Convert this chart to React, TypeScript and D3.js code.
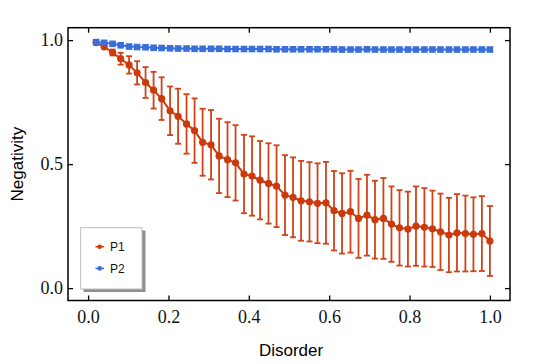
import React, { useEffect, useRef } from 'react';
import * as d3 from 'd3';

// disorder values (49 points, 0.02 .. 1.0)
const disorder = [
  0.020, 0.040, 0.061, 0.081, 0.102, 0.122, 0.143, 0.163, 0.183, 0.204,
  0.224, 0.245, 0.265, 0.285, 0.306, 0.326, 0.347, 0.367, 0.388, 0.408,
  0.428, 0.449, 0.469, 0.490, 0.510, 0.530, 0.551, 0.571, 0.592, 0.612,
  0.632, 0.653, 0.673, 0.694, 0.714, 0.735, 0.755, 0.775, 0.796, 0.816,
  0.837, 0.857, 0.877, 0.898, 0.918, 0.939, 0.959, 0.980, 1.000,
];

const p1 = [
  0.990, 0.973, 0.950, 0.925, 0.900, 0.868, 0.829, 0.798, 0.764, 0.715,
  0.693, 0.662, 0.635, 0.588, 0.578, 0.533, 0.518, 0.505, 0.460, 0.452,
  0.435, 0.422, 0.411, 0.375, 0.366, 0.352, 0.348, 0.342, 0.344, 0.312,
  0.301, 0.308, 0.281, 0.294, 0.276, 0.281, 0.258, 0.243, 0.238, 0.250,
  0.245, 0.239, 0.227, 0.214, 0.223, 0.220, 0.217, 0.220, 0.190,
];

const p1Err = [
  0.003, 0.006, 0.012, 0.024, 0.035, 0.047, 0.062, 0.074, 0.086, 0.098,
  0.111, 0.120, 0.130, 0.135, 0.140, 0.150, 0.151, 0.152, 0.158, 0.160,
  0.158, 0.162, 0.165, 0.161, 0.161, 0.161, 0.160, 0.161, 0.165, 0.160,
  0.162, 0.165, 0.159, 0.163, 0.157, 0.163, 0.152, 0.152, 0.151, 0.160,
  0.158, 0.154, 0.154, 0.150, 0.156, 0.153, 0.149, 0.151, 0.141,
];

const p2 = [
  0.992, 0.989, 0.985, 0.979, 0.974, 0.972, 0.971, 0.969, 0.968, 0.967,
  0.966, 0.966, 0.965, 0.965, 0.965, 0.965, 0.964, 0.964, 0.964, 0.964,
  0.964, 0.964, 0.963, 0.963, 0.963, 0.963, 0.963, 0.963, 0.963, 0.963,
  0.962, 0.962, 0.962, 0.963, 0.962, 0.962, 0.962, 0.962, 0.962, 0.962,
  0.962, 0.962, 0.962, 0.962, 0.962, 0.962, 0.962, 0.962, 0.962,
];

const xTicks = [0, 0.2, 0.4, 0.6, 0.8, 1.0];
const yTicks = [0, 0.5, 1.0];
const seriesNames = ['P1', 'P2'];

const RED = '#cc3a0c';
const BLUE = '#3a6fd9';

export default function App() {
  const ref = useRef<SVGSVGElement>(null);

  useEffect(() => {
    document.body.style.margin = '0';
    const frame = { left: 68, right: 510, top: 27.7, bottom: 300.5 };
    const svg = d3.select(ref.current);
    svg.selectAll('*').remove();

    const x = d3.scaleLinear().domain([-0.05, 1.05]).range([frame.left, frame.right]);
    const y = d3.scaleLinear().domain([-0.05, 1.05]).range([frame.bottom, frame.top]);
    const fmt = d3.format('.1f');
    const serif = '"Liberation Serif", "Times New Roman", serif';
    const sans = '"Liberation Sans", Arial, sans-serif';

    const styleAxis = (g: any) => {
      g.select('.domain').remove();
      g.selectAll('.tick line').attr('stroke', '#000').attr('stroke-width', 1.3);
      g.selectAll('.tick text').attr('font-family', serif).attr('font-size', 18).attr('fill', '#111');
    };

    svg.append('g')
      .attr('transform', `translate(0,${frame.bottom})`)
      .call(d3.axisBottom(x).tickValues(xTicks).tickFormat(fmt as any).tickSizeInner(-5).tickSizeOuter(0).tickPadding(10))
      .call(styleAxis);
    svg.append('g')
      .attr('transform', `translate(0,${frame.top})`)
      .call(d3.axisTop(x).tickValues(xTicks).tickFormat(() => '').tickSizeInner(-5).tickSizeOuter(0))
      .call(styleAxis);
    svg.append('g')
      .attr('transform', `translate(${frame.left},0)`)
      .call(d3.axisLeft(y).tickValues(yTicks).tickFormat(fmt as any).tickSizeInner(-5).tickSizeOuter(0).tickPadding(5))
      .call(styleAxis);
    svg.append('g')
      .attr('transform', `translate(${frame.right},0)`)
      .call(d3.axisRight(y).tickValues(yTicks).tickFormat(() => '').tickSizeInner(-5).tickSizeOuter(0))
      .call(styleAxis);

    // frame
    svg.append('rect')
      .attr('x', frame.left).attr('y', frame.top)
      .attr('width', frame.right - frame.left).attr('height', frame.bottom - frame.top)
      .attr('fill', 'none').attr('stroke', '#000').attr('stroke-width', 1.5);

    // axis titles
    svg.append('text')
      .attr('x', (frame.left + frame.right) / 2 + 2).attr('y', 356)
      .attr('text-anchor', 'middle')
      .attr('font-family', sans).attr('font-size', 17)
      .text('Disorder');
    svg.append('text')
      .attr('transform', `translate(23,${(frame.top + frame.bottom) / 2}) rotate(-90)`)
      .attr('text-anchor', 'middle')
      .attr('font-family', sans).attr('font-size', 17)
      .text('Negativity');

    const line = d3.line<number>().x((d, i) => x(disorder[i])).y(d => y(d));

    // P1 error bars
    const eb = svg.append('g').attr('stroke', RED).attr('stroke-width', 1.8).attr('opacity', 0.95);
    p1.forEach((v, i) => {
      const cx = x(disorder[i]);
      const y0 = y(v - p1Err[i]), y1 = y(v + p1Err[i]);
      eb.append('line').attr('x1', cx).attr('x2', cx).attr('y1', y0).attr('y2', y1);
      eb.append('line').attr('x1', cx - 3).attr('x2', cx + 3).attr('y1', y0).attr('y2', y0);
      eb.append('line').attr('x1', cx - 3).attr('x2', cx + 3).attr('y1', y1).attr('y2', y1);
    });

    // P1 line and circles
    svg.append('path').datum(p1)
      .attr('d', line).attr('fill', 'none').attr('stroke', RED).attr('stroke-width', 2);
    svg.append('g').selectAll('circle').data(p1).enter().append('circle')
      .attr('cx', (d, i) => x(disorder[i]))
      .attr('cy', d => y(d))
      .attr('r', 3.6)
      .attr('fill', RED);

    // P2 (blue squares) drawn on top
    svg.append('path').datum(p2)
      .attr('d', line).attr('fill', 'none').attr('stroke', BLUE).attr('stroke-width', 2);
    svg.append('g').selectAll('rect').data(p2).enter().append('rect')
      .attr('x', (d, i) => x(disorder[i]) - 3.3)
      .attr('y', d => y(d) - 3.3)
      .attr('width', 6.6).attr('height', 6.6)
      .attr('fill', BLUE);

    // legend
    const lg = svg.append('g');
    lg.append('rect').attr('x', 83.5).attr('y', 230.5).attr('width', 62).attr('height', 61.5).attr('fill', '#8f8f8f');
    lg.append('rect').attr('x', 80.7).attr('y', 227.7).attr('width', 61.3).attr('height', 61.3)
      .attr('fill', '#fff').attr('stroke', '#bdbdbd').attr('stroke-width', 1);
    const colors = [RED, BLUE];
    seriesNames.forEach((name, i) => {
      const ly = 246.7 + i * 21.7;
      lg.append('line').attr('x1', 95.5).attr('x2', 104).attr('y1', ly).attr('y2', ly)
        .attr('stroke', colors[i]).attr('stroke-width', 1.5);
      lg.append('circle').attr('cx', 99.7).attr('cy', ly).attr('r', 2.3).attr('fill', colors[i]);
      lg.append('text').attr('x', 110).attr('y', ly + 4.3)
        .attr('font-family', sans).attr('font-size', 12).attr('fill', '#111')
        .text(name);
    });
  }, []);

  return <svg ref={ref} width={540} height={364} style={{ display: 'block', background: '#fff' }} />;
}
